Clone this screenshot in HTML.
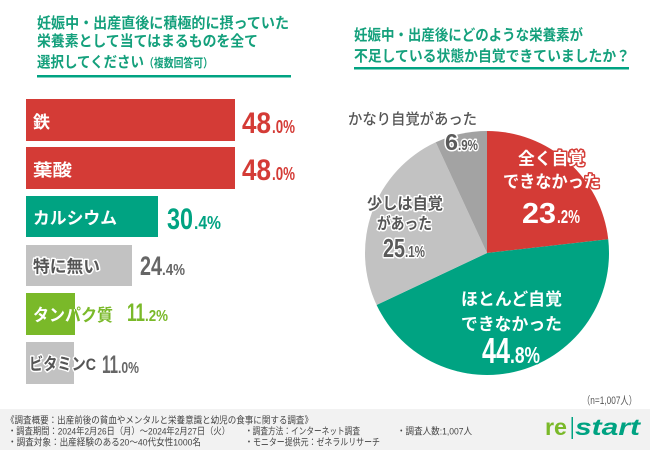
<!DOCTYPE html>
<html>
<head>
<meta charset="utf-8">
<style>
html,body{margin:0;padding:0;background:#fff;}
svg{display:block;}
text{font-family:"Liberation Sans","Noto Sans CJK JP",sans-serif;}
.o{paint-order:stroke;stroke:#fff;stroke-linejoin:round;}
.r{paint-order:stroke;stroke:#d43b36;stroke-linejoin:round;stroke-width:3;}
.g{paint-order:stroke;stroke:#00a382;stroke-linejoin:round;stroke-width:3;}
</style>
</head>
<body>
<svg width="650" height="450" viewBox="0 0 650 450" xmlns="http://www.w3.org/2000/svg">
<defs>
  <clipPath id="onbar"><rect x="26" y="293" width="49" height="42"/></clipPath>
  <clipPath id="offbar"><rect x="75" y="285" width="200" height="60"/></clipPath>
</defs>
<rect width="650" height="450" fill="#fff"/>

<!-- Left title -->
<g fill="#14a07c" font-weight="700">
  <text x="37" y="28" font-size="15" textLength="252" lengthAdjust="spacingAndGlyphs">妊娠中・出産直後に積極的に摂っていた</text>
  <text x="37" y="46" font-size="15" textLength="221" lengthAdjust="spacingAndGlyphs">栄養素として当てはまるものを全て</text>
  <text x="37" y="67" font-size="15" textLength="107" lengthAdjust="spacingAndGlyphs">選択してください</text>
  <text x="144" y="67" font-size="12" textLength="69" lengthAdjust="spacingAndGlyphs">（複数回答可）</text>
</g>
<rect x="37" y="75" width="254" height="2.5" fill="#00a382"/>

<!-- Right title -->
<g fill="#14a07c" font-weight="700">
  <text x="354" y="40" font-size="15" textLength="229" lengthAdjust="spacingAndGlyphs">妊娠中・出産後にどのような栄養素が</text>
  <text x="354" y="61" font-size="15" textLength="276" lengthAdjust="spacingAndGlyphs">不足している状態か自覚できていましたか？</text>
</g>
<rect x="354" y="67" width="275" height="2.5" fill="#00a382"/>

<!-- Bars -->
<rect x="26" y="99" width="209" height="42" fill="#d43b36"/>
<rect x="26" y="147" width="209" height="42" fill="#d43b36"/>
<rect x="26" y="196" width="132" height="41" fill="#00a382"/>
<rect x="26" y="245" width="106" height="41" fill="#c2c2c2"/>
<rect x="26" y="293" width="49" height="42" fill="#7ab929"/>
<rect x="26" y="342" width="48" height="42" fill="#c2c2c2"/>

<!-- Bar labels -->
<g font-size="17" font-weight="700">
  <text x="33" y="128" fill="#fff" textLength="17" lengthAdjust="spacingAndGlyphs">鉄</text>
  <text x="33" y="176" fill="#fff" textLength="39" lengthAdjust="spacingAndGlyphs">葉酸</text>
  <text x="33" y="224" fill="#fff" textLength="84" lengthAdjust="spacingAndGlyphs">カルシウム</text>
  <text x="33" y="272.5" class="o" stroke-width="3" fill="#555" textLength="67" lengthAdjust="spacingAndGlyphs">特に無い</text>
  <g clip-path="url(#onbar)">
    <text x="33" y="321" fill="#fff" textLength="80" lengthAdjust="spacingAndGlyphs">タンパク質</text>
  </g>
  <g clip-path="url(#offbar)">
    <text x="33" y="321" class="o" stroke-width="3" fill="#7ab929" textLength="80" lengthAdjust="spacingAndGlyphs">タンパク質</text>
  </g>
  <text x="29" y="370" class="o" stroke-width="3" fill="#555" textLength="67" lengthAdjust="spacingAndGlyphs">ビタミンC</text>
</g>

<!-- Bar percentages -->
<g font-weight="700">
  <text x="242" y="133" font-size="30" fill="#d43b36" textLength="29" lengthAdjust="spacingAndGlyphs">48</text>
  <text x="272" y="133" font-size="18" fill="#d43b36" textLength="23" lengthAdjust="spacingAndGlyphs">.0%</text>
  <text x="242" y="180" font-size="30" fill="#d43b36" textLength="29" lengthAdjust="spacingAndGlyphs">48</text>
  <text x="272" y="180" font-size="18" fill="#d43b36" textLength="23" lengthAdjust="spacingAndGlyphs">.0%</text>
  <text x="167" y="229" font-size="30" fill="#00a382" textLength="26" lengthAdjust="spacingAndGlyphs">30</text>
  <text x="194" y="229" font-size="18" fill="#00a382" textLength="27" lengthAdjust="spacingAndGlyphs">.4%</text>
  <text x="140" y="275" font-size="27" fill="#666" textLength="22" lengthAdjust="spacingAndGlyphs">24</text>
  <text x="162" y="275" font-size="16" fill="#666" textLength="23" lengthAdjust="spacingAndGlyphs">.4%</text>
  <text x="127" y="321" font-size="25" fill="#7ab929" textLength="18" lengthAdjust="spacingAndGlyphs">11</text>
  <text x="145" y="321" font-size="16" fill="#7ab929" textLength="23" lengthAdjust="spacingAndGlyphs">.2%</text>
  <text x="102" y="373" font-size="25" fill="#666" textLength="16" lengthAdjust="spacingAndGlyphs">11</text>
  <text x="118" y="373" font-size="16" fill="#666" textLength="21" lengthAdjust="spacingAndGlyphs">.0%</text>
</g>

<!-- Pie -->
<path d="M487,253 L487,131 A122,122 0 0,1 608.22,239.23 Z" fill="#d43b36"/>
<path d="M487,253 L608.22,239.23 A122,122 0 0,1 376.61,304.95 Z" fill="#00a382"/>
<path d="M487,253 L376.61,304.95 A122,122 0 0,1 435.75,142.29 Z" fill="#c2c2c2"/>
<path d="M487,253 L435.75,142.29 A122,122 0 0,1 487,131 Z" fill="#a3a3a3"/>

<!-- Pie labels -->
<text x="348" y="124" font-size="15" fill="#555" font-weight="500" textLength="129" lengthAdjust="spacingAndGlyphs">かなり自覚があった</text>
<g font-weight="700">
  <text x="445" y="150" font-size="23" class="o" stroke-width="3" fill="#5a5a5a" textLength="13" lengthAdjust="spacingAndGlyphs">6</text>
  <text x="458" y="150" font-size="15" class="o" stroke-width="3" fill="#5a5a5a" textLength="20" lengthAdjust="spacingAndGlyphs">.9%</text>

  <text x="518" y="164.5" font-size="17" class="r" fill="#fff" textLength="67" lengthAdjust="spacingAndGlyphs">全く自覚</text>
  <text x="503" y="187.5" font-size="17" class="r" fill="#fff" textLength="97" lengthAdjust="spacingAndGlyphs">できなかった</text>
  <text x="522" y="223" font-size="29" class="r" fill="#fff" textLength="34" lengthAdjust="spacingAndGlyphs">23</text>
  <text x="557" y="223" font-size="18" class="r" fill="#fff" textLength="23" lengthAdjust="spacingAndGlyphs">.2%</text>

  <text x="367" y="209" font-size="16" class="o" stroke-width="3" fill="#555" textLength="76" lengthAdjust="spacingAndGlyphs">少しは自覚</text>
  <text x="377" y="229" font-size="16" class="o" stroke-width="3" fill="#555" textLength="55" lengthAdjust="spacingAndGlyphs">があった</text>
  <text x="383" y="257" font-size="26" class="o" stroke-width="3" fill="#5a5a5a" textLength="22" lengthAdjust="spacingAndGlyphs">25</text>
  <text x="405" y="257" font-size="16" class="o" stroke-width="3" fill="#5a5a5a" textLength="20" lengthAdjust="spacingAndGlyphs">.1%</text>

  <text x="461" y="305" font-size="17" class="g" fill="#fff" textLength="101" lengthAdjust="spacingAndGlyphs">ほとんど自覚</text>
  <text x="461" y="330" font-size="17" class="g" fill="#fff" textLength="101" lengthAdjust="spacingAndGlyphs">できなかった</text>
  <text x="482" y="363" font-size="36" class="g" fill="#fff" textLength="28" lengthAdjust="spacingAndGlyphs">44</text>
  <text x="510" y="363" font-size="23" class="g" fill="#fff" textLength="30" lengthAdjust="spacingAndGlyphs">.8%</text>
</g>

<text x="582" y="404" font-size="11" fill="#555" textLength="55" lengthAdjust="spacingAndGlyphs">（n=1,007人）</text>

<!-- Footer -->
<rect x="0" y="409" width="650" height="41" fill="#f2f2f2"/>
<g font-size="9.5" fill="#444">
  <text x="6" y="423.5" textLength="307" lengthAdjust="spacingAndGlyphs">《調査概要：出産前後の貧血やメンタルと栄養意識と幼児の食事に関する調査》</text>
  <text x="8" y="434.5" textLength="222" lengthAdjust="spacingAndGlyphs">・調査期間：2024年2月26日（月）～2024年2月27日（火）</text>
  <text x="245" y="434.5" textLength="115" lengthAdjust="spacingAndGlyphs">・調査方法：インターネット調査</text>
  <text x="397" y="434.5" textLength="75" lengthAdjust="spacingAndGlyphs">・調査人数:1,007人</text>
  <text x="8" y="445.5" textLength="193" lengthAdjust="spacingAndGlyphs">・調査対象：出産経験のある20〜40代女性1000名</text>
  <text x="245" y="445.5" textLength="135" lengthAdjust="spacingAndGlyphs">・モニター提供元：ゼネラルリサーチ</text>
</g>

<!-- Logo -->
<text x="545" y="435" font-size="23" font-weight="700" fill="#7ab929" textLength="22" lengthAdjust="spacingAndGlyphs">re</text>
<rect x="571.5" y="417" width="1.5" height="22" fill="#00a382"/>
<text x="575" y="435" font-size="23" font-weight="700" font-style="italic" fill="#00a382" textLength="65" lengthAdjust="spacingAndGlyphs">start</text>
</svg>
</body>
</html>
